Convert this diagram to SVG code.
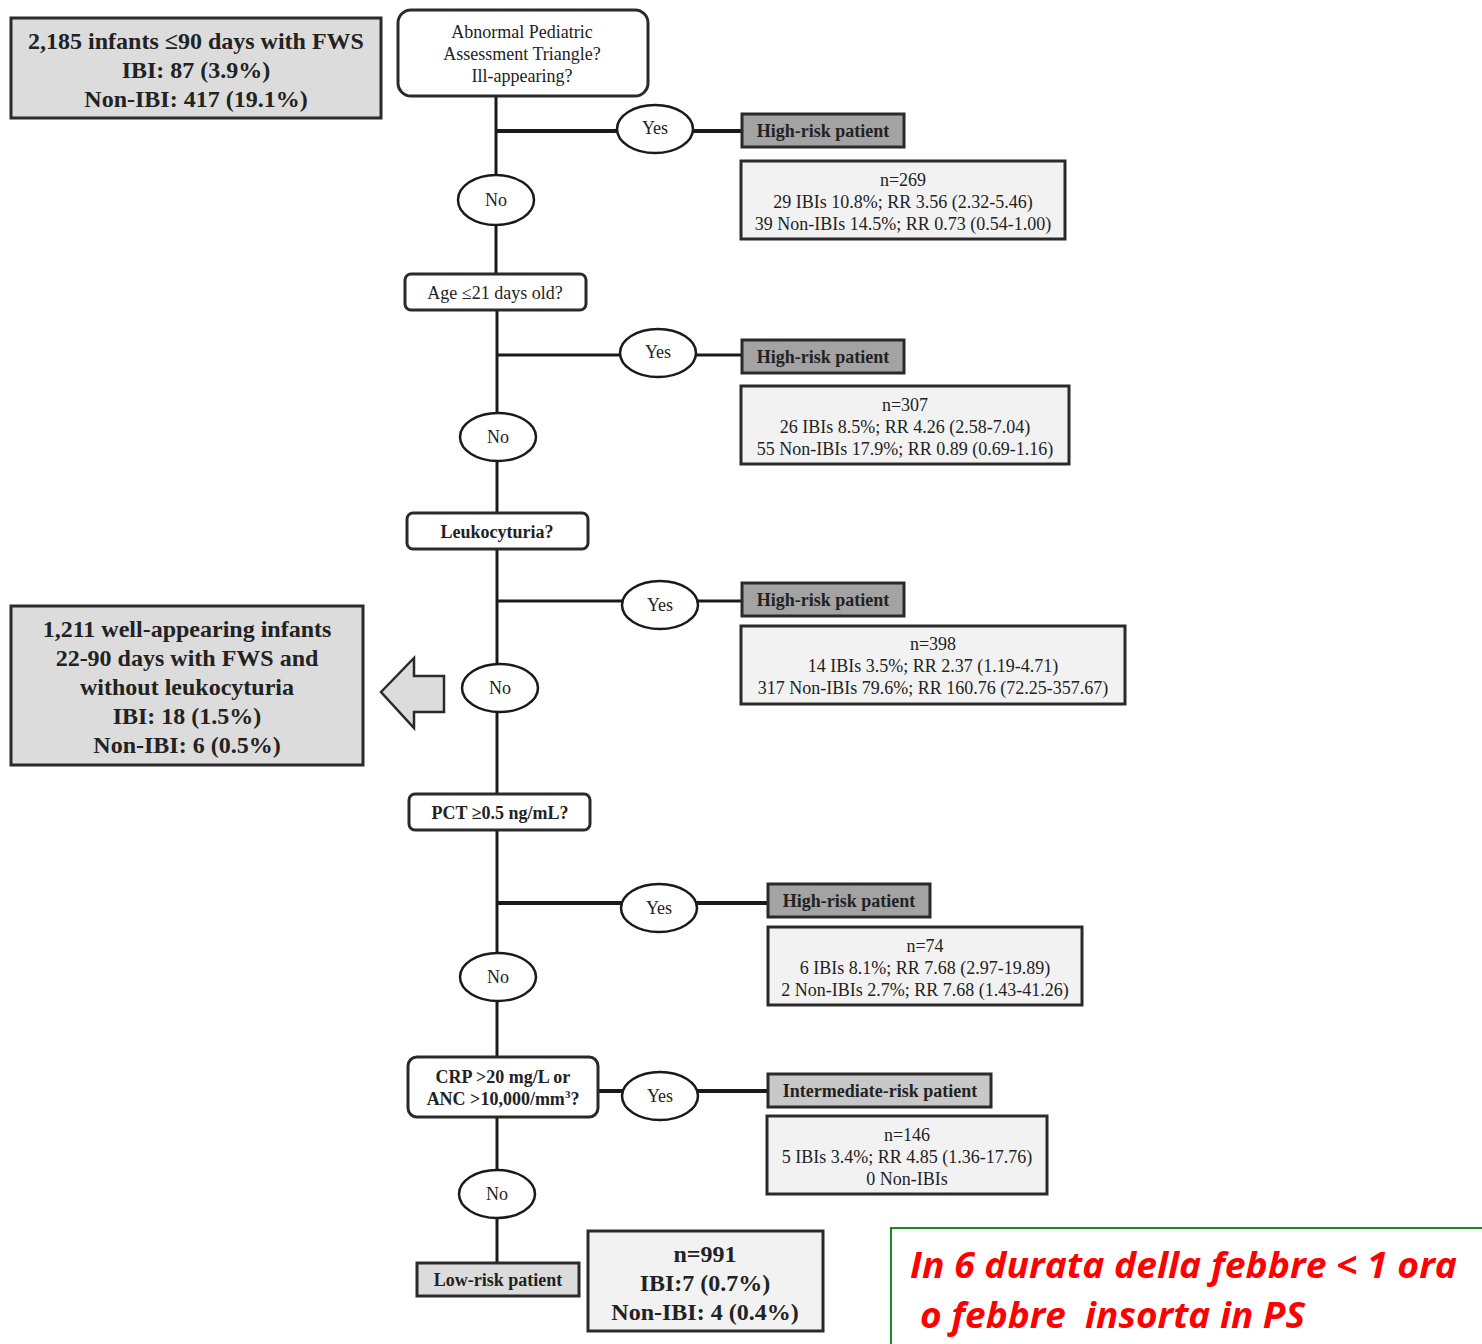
<svg xmlns="http://www.w3.org/2000/svg" width="1482" height="1344" viewBox="0 0 1482 1344">
<style>
text{font-family:"Liberation Serif","Times New Roman",serif;fill:#222;text-anchor:middle}
.big{font-size:24px;font-weight:bold}
.q{font-size:18px}
.b{font-weight:bold}
.box{stroke:#2a2a2a;stroke-width:3}
.lt{fill:#dcdcdc}
.dk{fill:#a3a3a3}
.wh{fill:#f2f2f2}
.q0{fill:#fff}
.ell{fill:#fff;stroke:#1a1a1a;stroke-width:2.5}
.ln{stroke:#1a1a1a;stroke-width:3;fill:none}
.th{stroke-width:4}
.note{font-family:"Open Sans","Liberation Sans",sans-serif;font-size:35px;font-weight:bold;font-style:italic;fill:#ff0000;text-anchor:start}
</style>
<g id="connectors">
<line class="ln" x1="496" y1="96" x2="496" y2="176"/>
<line class="ln" x1="496" y1="224" x2="496" y2="275"/>
<line class="ln" x1="497" y1="310" x2="497" y2="414"/>
<line class="ln" x1="497" y1="460" x2="497" y2="514"/>
<line class="ln" x1="497" y1="549" x2="497" y2="665"/>
<line class="ln" x1="497" y1="711" x2="497" y2="795"/>
<line class="ln" x1="497" y1="830" x2="497" y2="954"/>
<line class="ln" x1="497" y1="1000" x2="497" y2="1058"/>
<line class="ln" x1="497" y1="1117" x2="497" y2="1171"/>
<line class="ln" x1="497" y1="1217" x2="497" y2="1264"/>
<line class="ln th" x1="496" y1="131" x2="618" y2="131"/>
<line class="ln th" x1="692" y1="131" x2="742" y2="131"/>
<line class="ln" x1="497" y1="355" x2="621" y2="355"/>
<line class="ln" x1="695" y1="355" x2="742" y2="355"/>
<line class="ln" x1="497" y1="601" x2="623" y2="601"/>
<line class="ln" x1="697" y1="601" x2="742" y2="601"/>
<line class="ln th" x1="497" y1="903" x2="622" y2="903"/>
<line class="ln th" x1="696" y1="903" x2="768" y2="903"/>
<line class="ln th" x1="598" y1="1091" x2="623" y2="1091"/>
<line class="ln th" x1="697" y1="1091" x2="768" y2="1091"/>
<path d="M381,692 L414,658 L414,676 L444,676 L444,712 L414,712 L414,728 Z" fill="#dcdcdc" stroke="#2a2a2a" stroke-width="2.5"/>
</g>
<g id="start">
<rect class="box lt" x="11" y="18" width="370" height="100"/>
<text class="big" x="196" y="49">2,185 infants ≤90 days with FWS</text>
<text class="big" x="196" y="78">IBI: 87 (3.9%)</text>
<text class="big" x="196" y="107">Non-IBI: 417 (19.1%)</text>
</g>
<g id="q1">
<rect class="box q0" x="398" y="10" width="250" height="86" rx="13"/>
<text class="q" x="522" y="38">Abnormal Pediatric</text>
<text class="q" x="522" y="60">Assessment Triangle?</text>
<text class="q" x="522" y="82">Ill-appearing?</text>
</g>
<g id="yes1"><ellipse class="ell" cx="655" cy="129" rx="38" ry="24"/><text class="q" x="655" y="134">Yes</text></g>
<g id="no1"><ellipse class="ell" cx="496" cy="200" rx="38" ry="25"/><text class="q" x="496" y="206">No</text></g>
<g id="hr1"><rect class="box dk" x="742" y="114" width="162" height="33"/><text class="q b" x="823" y="137">High-risk patient</text></g>
<g id="d1"><rect class="box wh" x="741" y="161" width="324" height="78"/>
<text class="q" x="903" y="186">n=269</text>
<text class="q" x="903" y="208">29 IBIs 10.8%; RR 3.56 (2.32-5.46)</text>
<text class="q" x="903" y="230">39 Non-IBIs 14.5%; RR 0.73 (0.54-1.00)</text></g>
<g id="q2"><rect class="box q0" x="405" y="274" width="181" height="36" rx="6"/><text class="q" x="495" y="299">Age ≤21 days old?</text></g>
<g id="yes2"><ellipse class="ell" cx="658" cy="353" rx="38" ry="24"/><text class="q" x="658" y="358">Yes</text></g>
<g id="no2"><ellipse class="ell" cx="498" cy="437" rx="38" ry="24"/><text class="q" x="498" y="443">No</text></g>
<g id="hr2"><rect class="box dk" x="742" y="340" width="162" height="33"/><text class="q b" x="823" y="363">High-risk patient</text></g>
<g id="d2"><rect class="box wh" x="741" y="386" width="328" height="78"/>
<text class="q" x="905" y="411">n=307</text>
<text class="q" x="905" y="433">26 IBIs 8.5%; RR 4.26 (2.58-7.04)</text>
<text class="q" x="905" y="455">55 Non-IBIs 17.9%; RR 0.89 (0.69-1.16)</text></g>
<g id="q3"><rect class="box q0" x="407" y="513" width="181" height="36" rx="6"/><text class="q b" x="497" y="538">Leukocyturia?</text></g>
<g id="yes3"><ellipse class="ell" cx="660" cy="605" rx="38" ry="24"/><text class="q" x="660" y="611">Yes</text></g>
<g id="no3"><ellipse class="ell" cx="500" cy="688" rx="38" ry="24"/><text class="q" x="500" y="694">No</text></g>
<g id="hr3"><rect class="box dk" x="742" y="583" width="162" height="33"/><text class="q b" x="823" y="606">High-risk patient</text></g>
<g id="d3"><rect class="box wh" x="741" y="626" width="384" height="78"/>
<text class="q" x="933" y="650">n=398</text>
<text class="q" x="933" y="672">14 IBIs 3.5%; RR 2.37 (1.19-4.71)</text>
<text class="q" x="933" y="694">317 Non-IBIs 79.6%; RR 160.76 (72.25-357.67)</text></g>
<g id="well"><rect class="box lt" x="11" y="606" width="352" height="159"/>
<text class="big" x="187" y="637">1,211 well-appearing infants</text>
<text class="big" x="187" y="666">22-90 days with FWS and</text>
<text class="big" x="187" y="695">without leukocyturia</text>
<text class="big" x="187" y="724">IBI: 18 (1.5%)</text>
<text class="big" x="187" y="753">Non-IBI: 6 (0.5%)</text></g>
<g id="q4"><rect class="box q0" x="409" y="794" width="181" height="36" rx="6"/><text class="q b" x="500" y="819">PCT ≥0.5 ng/mL?</text></g>
<g id="yes4"><ellipse class="ell" cx="659" cy="908" rx="38" ry="24"/><text class="q" x="659" y="914">Yes</text></g>
<g id="no4"><ellipse class="ell" cx="498" cy="977" rx="38" ry="24"/><text class="q" x="498" y="983">No</text></g>
<g id="hr4"><rect class="box dk" x="768" y="884" width="162" height="33"/><text class="q b" x="849" y="907">High-risk patient</text></g>
<g id="d4"><rect class="box wh" x="768" y="927" width="314" height="78"/>
<text class="q" x="925" y="952">n=74</text>
<text class="q" x="925" y="974">6 IBIs 8.1%; RR 7.68 (2.97-19.89)</text>
<text class="q" x="925" y="996">2 Non-IBIs 2.7%; RR 7.68 (1.43-41.26)</text></g>
<g id="q5"><rect class="box q0" x="408" y="1057" width="190" height="60" rx="9"/>
<text class="q b" x="503" y="1083">CRP &gt;20 mg/L or</text>
<text class="q b" x="503" y="1105">ANC &gt;10,000/mm<tspan font-size="11" dy="-7">3</tspan><tspan dy="7">?</tspan></text></g>
<g id="yes5"><ellipse class="ell" cx="660" cy="1096" rx="38" ry="24"/><text class="q" x="660" y="1102">Yes</text></g>
<g id="no5"><ellipse class="ell" cx="497" cy="1194" rx="38" ry="24"/><text class="q" x="497" y="1200">No</text></g>
<g id="ir"><rect class="box lt" x="768" y="1074" width="223" height="33" style="fill:#c8c8c8"/><text class="q b" x="880" y="1097">Intermediate-risk patient</text></g>
<g id="d5"><rect class="box wh" x="767" y="1116" width="280" height="78"/>
<text class="q" x="907" y="1141">n=146</text>
<text class="q" x="907" y="1163">5 IBIs 3.4%; RR 4.85 (1.36-17.76)</text>
<text class="q" x="907" y="1185">0 Non-IBIs</text></g>
<g id="lr"><rect class="box lt" x="417" y="1263" width="162" height="33"/><text class="q b" x="498" y="1286">Low-risk patient</text></g>
<g id="d6"><rect class="box wh" x="588" y="1231" width="235" height="100"/>
<text class="big" x="705" y="1262">n=991</text>
<text class="big" x="705" y="1291">IBI:7 (0.7%)</text>
<text class="big" x="705" y="1320">Non-IBI: 4 (0.4%)</text></g>
<g id="note">
<rect x="891" y="1228" width="600" height="130" fill="none" stroke="#1a8a1a" stroke-width="2"/>
<text class="note" x="910" y="1278" textLength="547" lengthAdjust="spacingAndGlyphs">In 6 durata della febbre &lt; 1 ora</text>
<text class="note" x="920" y="1328" textLength="385" lengthAdjust="spacingAndGlyphs" xml:space="preserve">o febbre  insorta in PS</text>
</g>
</svg>
